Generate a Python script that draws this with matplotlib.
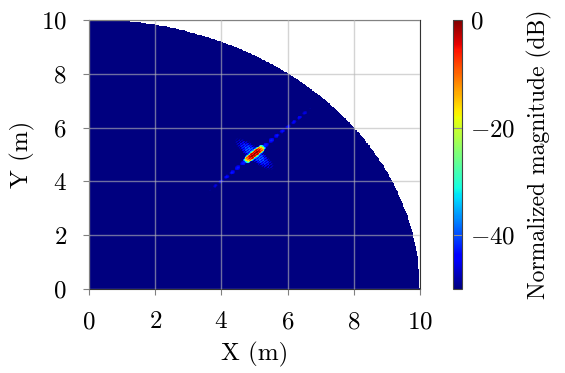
import numpy as np
import matplotlib.pyplot as plt

plt.rcParams['font.family'] = 'cmr10'
plt.rcParams['mathtext.fontset'] = 'cm'
plt.rcParams['axes.formatter.use_mathtext'] = True
plt.rcParams['font.size'] = 18

# scene / pattern parameters
region_radius = 10.0          # quarter disc, m
focus_xy = [5.0, 5.0]         # focal point, m
main_width = [0.24, 0.075]    # along / across the radial direction, m
main_fringe = 0.07            # fringe period across radial, m
cross_level_db = -36.0
cross_width = [0.14, 0.45]
cross_fringe = 0.07
streak_level_db = -41.0
streak_extent = [-2.1, 2.6]   # along radial, relative to focus, m
streak_width = 0.06
streak_period = 0.24
db_floor = -50.0
x_ticks = [0, 2, 4, 6, 8, 10]
y_ticks = [0, 2, 4, 6, 8, 10]
cbar_ticks = [-40, -20, 0]

n = 400
xs = np.linspace(0, region_radius, n)
X, Y = np.meshgrid(xs, xs)
r0 = np.hypot(*focus_xy)
u = (X + Y) / np.sqrt(2) - r0
v = (Y - X) / np.sqrt(2)

main = np.exp(-(np.abs(u) / main_width[0])**4 - (np.abs(v) / main_width[1])**4) \
    * (0.25 + 0.75 * np.cos(np.pi * v / main_fringe)**2)
cross = 10**(cross_level_db / 10) * np.exp(-(u / cross_width[0])**2 - (v / cross_width[1])**2) \
    * (0.2 + 0.8 * np.cos(np.pi * v / cross_fringe)**2)
taper = np.clip((u - streak_extent[0]) / 0.6, 0, 1) * np.clip((streak_extent[1] - u) / 0.6, 0, 1)
taper = taper * np.exp(-np.abs(u) / 3.0)
streak = 10**(streak_level_db / 10) * taper * np.exp(-(v / streak_width)**2) \
    * (0.15 + 0.85 * np.cos(np.pi * u / streak_period)**2)

power = main + cross + streak
db = 10 * np.log10(power / power.max() + 1e-12)
db = np.clip(db, db_floor, 0)
db = np.ma.masked_where(np.hypot(X, Y) > region_radius, db)

fig = plt.figure(figsize=(5.65, 3.73), dpi=100)
ax = fig.add_axes([0.1575, 0.2252, 0.5858, 0.7212])
cax = fig.add_axes([0.8018, 0.2252, 0.0159, 0.7212])

im = ax.imshow(db, origin='lower', extent=[0, 10, 0, 10], aspect='auto',
               cmap='jet', vmin=db_floor, vmax=0, interpolation='nearest')
ax.set_xlim(0, 10)
ax.set_ylim(0, 10)
ax.set_xticks(x_ticks)
ax.set_yticks(y_ticks)
ax.grid(True, color='#b8b8b8', alpha=0.6, linewidth=1.0, zorder=3)
ax.set_axisbelow(False)
ax.tick_params(direction='out', length=4, color='#808080', width=0.8, pad=12)
for s in ax.spines.values():
    s.set_color('#333333')
    s.set_linewidth(0.8)
ax.set_xlabel('X (m)', labelpad=6)
ax.set_ylabel('Y (m)', labelpad=4)

cb = fig.colorbar(im, cax=cax, ticks=cbar_ticks)
cb.set_label('Normalized magnitude (dB)', fontsize=17, labelpad=8)
cb.outline.set_edgecolor('#444444')
cb.outline.set_linewidth(0.8)
cax.tick_params(direction='out', length=0, pad=6)
for t in cbar_ticks[:-1]:
    cax.axhline(t, color='#909090', linewidth=0.8)

fig.savefig('out.png', dpi=100)
